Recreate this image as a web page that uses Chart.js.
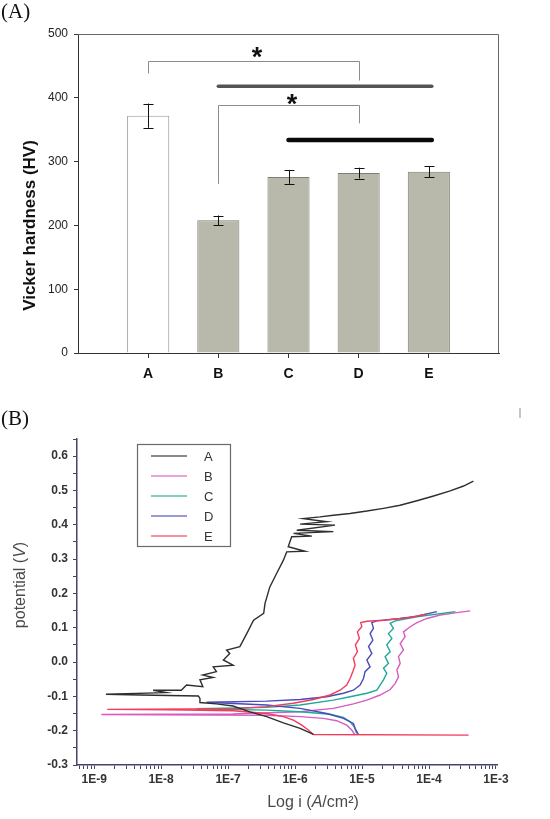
<!DOCTYPE html>
<html>
<head>
<meta charset="utf-8">
<script src="https://cdn.jsdelivr.net/npm/chart.js@4.4.1/dist/chart.umd.min.js"></script>
<style>
html, body { margin: 0; padding: 0; background: #fff; }
body { width: 550px; height: 819px; position: relative; overflow: hidden; }
.panel { position: absolute; left: 0; }
#wrapA { top: 0; width: 550px; height: 395px; }
#wrapB { top: 395px; width: 550px; height: 424px; }
.tag { position: absolute; left: 1px; font-family: "Liberation Serif", "Times New Roman", serif; font-size: 21px; line-height: 1; color: #111; }
</style>
</head>
<body>
<div class="panel" id="wrapA"><canvas id="chartA" width="550" height="395"></canvas></div>
<div class="panel" id="wrapB"><canvas id="chartB" width="550" height="424"></canvas></div>
<div class="tag" style="top:1px">(A)</div>
<div class="tag" style="top:408px">(B)</div>
<div style="position:absolute;left:519px;top:408px;width:2px;height:10px;background:#c4c4cc"></div>
<script>
"use strict";

// ---------- (A) dureza Vickers ----------
const categories = ["A", "B", "C", "D", "E"];
const hardness = [372, 208, 276, 282, 284];
const hardnessErr = [19, 7.5, 11, 8.5, 8.5];
// colchetes de significância (x = posição da categoria, y = HV)
const brackets = [
    { from: 1, to: 4, top: 458, leftEnd: 438, rightEnd: 427, star: 476 },
    { from: 2, to: 4, top: 388, leftEnd: 265, rightEnd: 360, star: 401 }
];
const groupLines = [
    { from: 2, to: 5, y: 418 },
    { from: 3, to: 5, y: 334 }
];

// ---------- (B) curvas de polarização ----------
const seriesLabels = ["A", "B", "C", "D", "E"];
const decadeLabels = ["1E-9", "1E-8", "1E-7", "1E-6", "1E-5", "1E-4", "1E-3"];
const potentialTicks = [-0.3, -0.2, -0.1, 0.0, 0.1, 0.2, 0.3, 0.4, 0.5, 0.6];

// [i (A/cm2), E (V)]
const curveA = [
    [1.88e-6, -0.211], [1.19e-6, -0.193], [6.7e-7, -0.177], [3.76e-7, -0.159], [2.12e-7, -0.145],
    [1.5e-7, -0.135], [1.19e-7, -0.128], [6.7e-8, -0.122], [3.8e-8, -0.118], [3.8e-8, -0.106],
    [3.6e-8, -0.099], [4.8e-9, -0.096], [1.5e-9, -0.094], [1.2e-8, -0.089], [7.6e-9, -0.082],
    [2.0e-8, -0.082], [2.4e-8, -0.067], [4.2e-8, -0.072], [3.8e-8, -0.052], [6.0e-8, -0.045],
    [4.2e-8, -0.038], [6.7e-8, -0.028], [6.0e-8, -0.014], [1.19e-7, -0.009], [8.5e-8, 0.006],
    [1.06e-7, 0.025], [9.5e-8, 0.035], [1.5e-7, 0.045], [1.9e-7, 0.083], [2.4e-7, 0.122],
    [3.4e-7, 0.142], [3.56e-7, 0.171], [4.2e-7, 0.219], [5.3e-7, 0.258], [6.7e-7, 0.297],
    [7.5e-7, 0.321], [1.41e-6, 0.323], [7.9e-7, 0.336], [8.9e-7, 0.365], [1.78e-6, 0.367],
    [9.5e-7, 0.375], [3.73e-6, 0.380], [1.06e-6, 0.384], [3.95e-6, 0.399], [1.19e-6, 0.402],
    [2.97e-6, 0.409], [1.33e-6, 0.418], [2.36e-6, 0.423], [3.73e-6, 0.428], [6.6e-6, 0.433],
    [1.18e-5, 0.440], [2.09e-5, 0.448], [3.7e-5, 0.457], [6.6e-5, 0.470], [1.17e-4, 0.484],
    [2.07e-4, 0.499], [3.28e-4, 0.513], [4.6e-4, 0.527]
];
const curveB = [
    [7.87e-6, -0.213], [7.02e-6, -0.198], [5.91e-6, -0.184], [4.19e-6, -0.171], [2.65e-6, -0.164],
    [1.19e-6, -0.159], [3.76e-7, -0.155], [1.28e-9, -0.153], [1.19e-7, -0.151], [1.19e-6, -0.145],
    [3.73e-6, -0.135], [7.43e-6, -0.122], [1.18e-5, -0.111], [1.86e-5, -0.096], [2.63e-5, -0.080],
    [3.13e-5, -0.062], [3.5e-5, -0.043], [3.31e-5, -0.023], [3.71e-5, -0.004], [3.5e-5, 0.016],
    [4.16e-5, 0.035], [3.71e-5, 0.054], [4.4e-5, 0.074], [4.16e-5, 0.088], [5.24e-5, 0.103],
    [6.59e-5, 0.115], [9.29e-5, 0.127], [1.47e-4, 0.137], [2.61e-4, 0.144], [4.13e-4, 0.149]
];
const curveC = [
    [8.34e-6, -0.208], [7.61e-6, -0.188], [6.63e-6, -0.174], [5.27e-6, -0.161], [3.33e-6, -0.152],
    [1.19e-6, -0.145], [3.76e-7, -0.140], [3.37e-8, -0.136], [3.76e-7, -0.132], [1.19e-6, -0.125],
    [3.73e-6, -0.111], [6.63e-6, -0.101], [1.18e-5, -0.091], [1.66e-5, -0.082], [1.86e-5, -0.067],
    [2.09e-5, -0.052], [2.34e-5, -0.033], [2.09e-5, -0.018], [2.48e-5, -0.004], [2.21e-5, 0.016],
    [2.63e-5, 0.030], [2.34e-5, 0.050], [2.79e-5, 0.069], [2.48e-5, 0.083], [2.95e-5, 0.098],
    [2.63e-5, 0.113], [3.13e-5, 0.120], [6.59e-5, 0.132], [2.47e-4, 0.147]
];
const curveD = [
    [8.83e-6, -0.211], [7.87e-6, -0.193], [7.43e-6, -0.179], [5.27e-6, -0.164], [2.97e-6, -0.150],
    [1.19e-6, -0.135], [3.76e-7, -0.125], [4.77e-8, -0.117], [3.76e-7, -0.114], [1.19e-6, -0.109],
    [2.97e-6, -0.101], [5.27e-6, -0.091], [7.43e-6, -0.082], [9.35e-6, -0.067], [1.05e-5, -0.048],
    [1.11e-5, -0.028], [1.32e-5, -0.014], [1.18e-5, 0.006], [1.4e-5, 0.025], [1.25e-5, 0.045],
    [1.45e-5, 0.064], [1.32e-5, 0.083], [1.48e-5, 0.098], [1.4e-5, 0.115], [1.66e-5, 0.120],
    [3.71e-5, 0.127], [6.59e-5, 0.134], [1.31e-4, 0.147]
];
const curveE = [
    [3.9e-4, -0.213], [1.88e-6, -0.211], [1.58e-6, -0.198], [1.26e-6, -0.184], [9.42e-7, -0.169],
    [6.68e-7, -0.159], [3.76e-7, -0.150], [1.19e-7, -0.142], [1.27e-8, -0.139], [1.57e-9, -0.138],
    [1.19e-7, -0.136], [3.76e-7, -0.130], [9.42e-7, -0.120], [1.88e-6, -0.109], [3.33e-6, -0.096],
    [4.7e-6, -0.082], [5.91e-6, -0.067], [6.63e-6, -0.048], [7.27e-6, -0.028], [7.87e-6, -0.009],
    [7.43e-6, 0.011], [8.53e-6, 0.030], [7.96e-6, 0.050], [9.14e-6, 0.069], [8.53e-6, 0.088],
    [9.91e-6, 0.103], [9.57e-6, 0.115], [1.18e-5, 0.119], [2.09e-5, 0.122], [5.24e-5, 0.130],
    [9.29e-5, 0.140]
];

const SANS = "'Liberation Sans', Arial, sans-serif";

// ---------- gráfico A ----------
const annotA = {
    id: "annotA",
    afterDatasetsDraw(chart) {
        const { ctx, chartArea: a, scales: { x, y } } = chart;
        ctx.save();
        // moldura superior/direita
        ctx.strokeStyle = "#666";
        ctx.lineWidth = 1;
        ctx.beginPath();
        ctx.moveTo(a.left, a.top + 0.5);
        ctx.lineTo(a.right - 0.5, a.top + 0.5);
        ctx.lineTo(a.right - 0.5, a.bottom);
        ctx.stroke();

        // barras de erro
        const meta = chart.getDatasetMeta(0);
        ctx.strokeStyle = "#111";
        meta.data.forEach((bar, i) => {
            const yt = y.getPixelForValue(hardness[i] + hardnessErr[i]);
            const yb = y.getPixelForValue(hardness[i] - hardnessErr[i]);
            const bx = Math.round(bar.x) + 0.5;
            ctx.beginPath();
            ctx.moveTo(bx, yt); ctx.lineTo(bx, yb);
            ctx.moveTo(bx - 5, Math.round(yt) + 0.5); ctx.lineTo(bx + 5, Math.round(yt) + 0.5);
            ctx.moveTo(bx - 5, Math.round(yb) + 0.5); ctx.lineTo(bx + 5, Math.round(yb) + 0.5);
            ctx.stroke();
        });

        // colchetes + asteriscos
        brackets.forEach(b => {
            const x1 = Math.round(x.getPixelForValue(b.from)) + 0.5;
            const x2 = Math.round(x.getPixelForValue(b.to)) + 0.5;
            const yT = Math.round(y.getPixelForValue(b.top)) + 0.5;
            ctx.strokeStyle = "#8c8c8c";
            ctx.lineWidth = 1;
            ctx.beginPath();
            ctx.moveTo(x1, y.getPixelForValue(b.leftEnd));
            ctx.lineTo(x1, yT);
            ctx.lineTo(x2, yT);
            ctx.lineTo(x2, y.getPixelForValue(b.rightEnd));
            ctx.stroke();
            const size = 27;
            ctx.fillStyle = "#111";
            ctx.font = "bold " + size + "px " + SANS;
            ctx.textAlign = "center";
            ctx.textBaseline = "alphabetic";
            ctx.fillText("*", (x1 + x2) / 2 + 3, y.getPixelForValue(b.star) + 0.6 * size);
        });

        // linhas de grupo
        const styles = [{ c: "#555", w: 3.5 }, { c: "#0a0a0a", w: 4.5 }];
        groupLines.forEach((g, k) => {
            ctx.strokeStyle = styles[k].c;
            ctx.lineWidth = styles[k].w;
            ctx.lineCap = "round";
            const yy = y.getPixelForValue(g.y);
            ctx.beginPath();
            ctx.moveTo(x.getPixelForValue(g.from), yy);
            ctx.lineTo(x.getPixelForValue(g.to) + 3, yy);
            ctx.stroke();
        });

        // título do eixo y
        ctx.translate(30, (a.top + a.bottom) / 2 + 32);
        ctx.rotate(-Math.PI / 2);
        ctx.fillStyle = "#111";
        ctx.font = "bold 17px " + SANS;
        ctx.textAlign = "center";
        ctx.textBaseline = "middle";
        ctx.fillText("Vicker hardness (HV)", 0, 0);
        ctx.restore();
    }
};

new Chart(document.getElementById("chartA"), {
    type: "bar",
    data: {
        datasets: [{
            data: categories.map((c, i) => ({ x: i + 1, y: hardness[i] })),
            backgroundColor: ["#ffffff", "#b9b9ab", "#b9b9ab", "#b9b9ab", "#b9b9ab"],
            borderColor: ["#9a9a9a", "#7e7e76", "#7e7e76", "#7e7e76", "#7e7e76"],
            borderWidth: 1,
            barPercentage: 0.6,
            categoryPercentage: 1
        }]
    },
    options: {
        responsive: false,
        animation: false,
        layout: { padding: { top: 34, right: 51, left: 0, bottom: 0 } },
        plugins: { legend: { display: false }, tooltip: { enabled: false } },
        scales: {
            x: {
                type: "linear",
                offset: false,
                min: 0, max: 6,
                afterFit: s => { s.height = 42; },
                afterBuildTicks: s => { s.ticks = [0, 1, 2, 3, 4, 5, 6].map(v => ({ value: v })); },
                ticks: {
                    autoSkip: false, maxRotation: 0, padding: 8,
                    color: "#111", font: { family: SANS, size: 14, weight: "bold" },
                    callback: v => categories[v - 1] || ""
                },
                grid: {
                    drawOnChartArea: false, tickLength: 5, offset: false,
                    tickColor: c => (c.tick && c.tick.value >= 1 && c.tick.value <= 5) ? "#333" : "rgba(0,0,0,0)"
                },
                border: { color: "#333", width: 1 }
            },
            y: {
                min: 0, max: 500,
                afterFit: s => { s.width = 78; },
                ticks: { stepSize: 100, padding: 6, color: "#222", font: { family: SANS, size: 12 } },
                grid: { drawOnChartArea: false, tickLength: 4, tickColor: "#333" },
                border: { color: "#333", width: 1 }
            }
        }
    },
    plugins: [annotA]
});

// ---------- gráfico B ----------
const curveColors = ["#2e2e2e", "#d65cc0", "#1fa898", "#4a4ab8", "#f23c5c"];
const curves = [curveA, curveB, curveC, curveD, curveE];
const drawOrder = [0, 4, 3, 2, 1];

function drawRich(ctx, parts, size) {
    const fonts = parts.map(p => (p[1] ? "italic " : "") + size + "px " + SANS);
    let total = 0;
    const widths = parts.map((p, k) => {
        ctx.font = fonts[k];
        const w = ctx.measureText(p[0]).width;
        total += w;
        return w;
    });
    let cx = -total / 2;
    ctx.textAlign = "left";
    ctx.textBaseline = "middle";
    parts.forEach((p, k) => {
        ctx.font = fonts[k];
        ctx.fillText(p[0], cx, 0);
        cx += widths[k];
    });
}

const annotB = {
    id: "annotB",
    afterDatasetsDraw(chart) {
        const { ctx, chartArea: a } = chart;
        ctx.save();
        // legenda interna
        const lx = a.left + 60, ly = a.top + 5, lw = 93, lh = 102;
        ctx.fillStyle = "#fff";
        ctx.fillRect(lx, ly, lw, lh);
        ctx.strokeStyle = "#6a6a6a";
        ctx.lineWidth = 1.2;
        ctx.strokeRect(lx + 0.5, ly + 0.5, lw, lh);
        chart.data.datasets.forEach((ds, i) => {
            const ry = ly + 12 + i * 20;
            ctx.globalAlpha = 0.75;
            ctx.strokeStyle = ds.borderColor;
            ctx.lineWidth = 1.6;
            ctx.beginPath();
            ctx.moveTo(lx + 14, ry);
            ctx.lineTo(lx + 50, ry);
            ctx.stroke();
            ctx.globalAlpha = 1;
            ctx.fillStyle = "#333";
            ctx.font = "13px " + SANS;
            ctx.textAlign = "left";
            ctx.textBaseline = "middle";
            ctx.fillText(ds.label, lx + 67, ry + 1);
        });

        // títulos dos eixos
        ctx.fillStyle = "#4a4a4a";
        ctx.save();
        ctx.translate(21, (a.top + a.bottom) / 2 - 17);
        ctx.rotate(-Math.PI / 2);
        drawRich(ctx, [["potential (", false], ["V", true], [")", false]], 16);
        ctx.restore();
        ctx.save();
        ctx.translate((a.left + a.right) / 2 + 26, a.bottom + 38);
        drawRich(ctx, [["Log i (", false], ["A", true], ["/cm\u00b2)", false]], 16);
        ctx.restore();
        ctx.restore();
    }
};

const xMin = 5.55e-10, xMax = 1.035e-3;

new Chart(document.getElementById("chartB"), {
    type: "scatter",
    data: {
        datasets: seriesLabels.map((lab, i) => ({
            label: lab,
            data: curves[i],
            showLine: true,
            borderColor: curveColors[i],
            backgroundColor: curveColors[i],
            borderWidth: 1.4,
            pointRadius: 0,
            tension: 0,
            order: drawOrder[i]
        }))
    },
    options: {
        responsive: false,
        animation: false,
        layout: { padding: { top: 44, right: 53, left: 0, bottom: 0 } },
        plugins: { legend: { display: false }, tooltip: { enabled: false } },
        scales: {
            x: {
                type: "logarithmic",
                min: xMin, max: xMax,
                afterFit: s => { s.height = 54; },
                afterBuildTicks: s => {
                    const t = [];
                    for (let e = -10; e <= -3; e++) {
                        for (let m = 1; m <= 9; m++) {
                            const v = m * Math.pow(10, e);
                            if (v >= xMin && v <= xMax) t.push({ value: v });
                        }
                    }
                    s.ticks = t;
                },
                ticks: {
                    autoSkip: false, maxRotation: 0, padding: 3,
                    color: "#333", font: { family: SANS, size: 12, weight: "bold" },
                    callback: v => {
                        const lg = Math.log10(v);
                        const e = Math.round(lg);
                        return Math.abs(lg - e) < 1e-6 ? (decadeLabels[e + 9] || "") : "";
                    }
                },
                grid: { drawOnChartArea: false, tickLength: 4, tickColor: "#45456c" },
                border: { color: "#45456c", width: 1.5 }
            },
            y: {
                min: -0.3, max: 0.65,
                afterFit: s => { s.width = 77; },
                afterBuildTicks: s => {
                    const t = [];
                    potentialTicks.forEach(v => { t.push({ value: v }); t.push({ value: v + 0.05 }); });
                    s.ticks = t;
                },
                ticks: {
                    autoSkip: false, padding: 5,
                    color: "#333", font: { family: SANS, size: 12, weight: "bold" },
                    callback: v => {
                        const k = Math.round(v * 10);
                        return Math.abs(v * 10 - k) < 1e-6 ? (k / 10).toFixed(1) : "";
                    }
                },
                grid: { drawOnChartArea: false, tickLength: 4, tickColor: "#45456c" },
                border: { color: "#45456c", width: 1.5 }
            }
        }
    },
    plugins: [annotB]
});
</script>
</body>
</html>
